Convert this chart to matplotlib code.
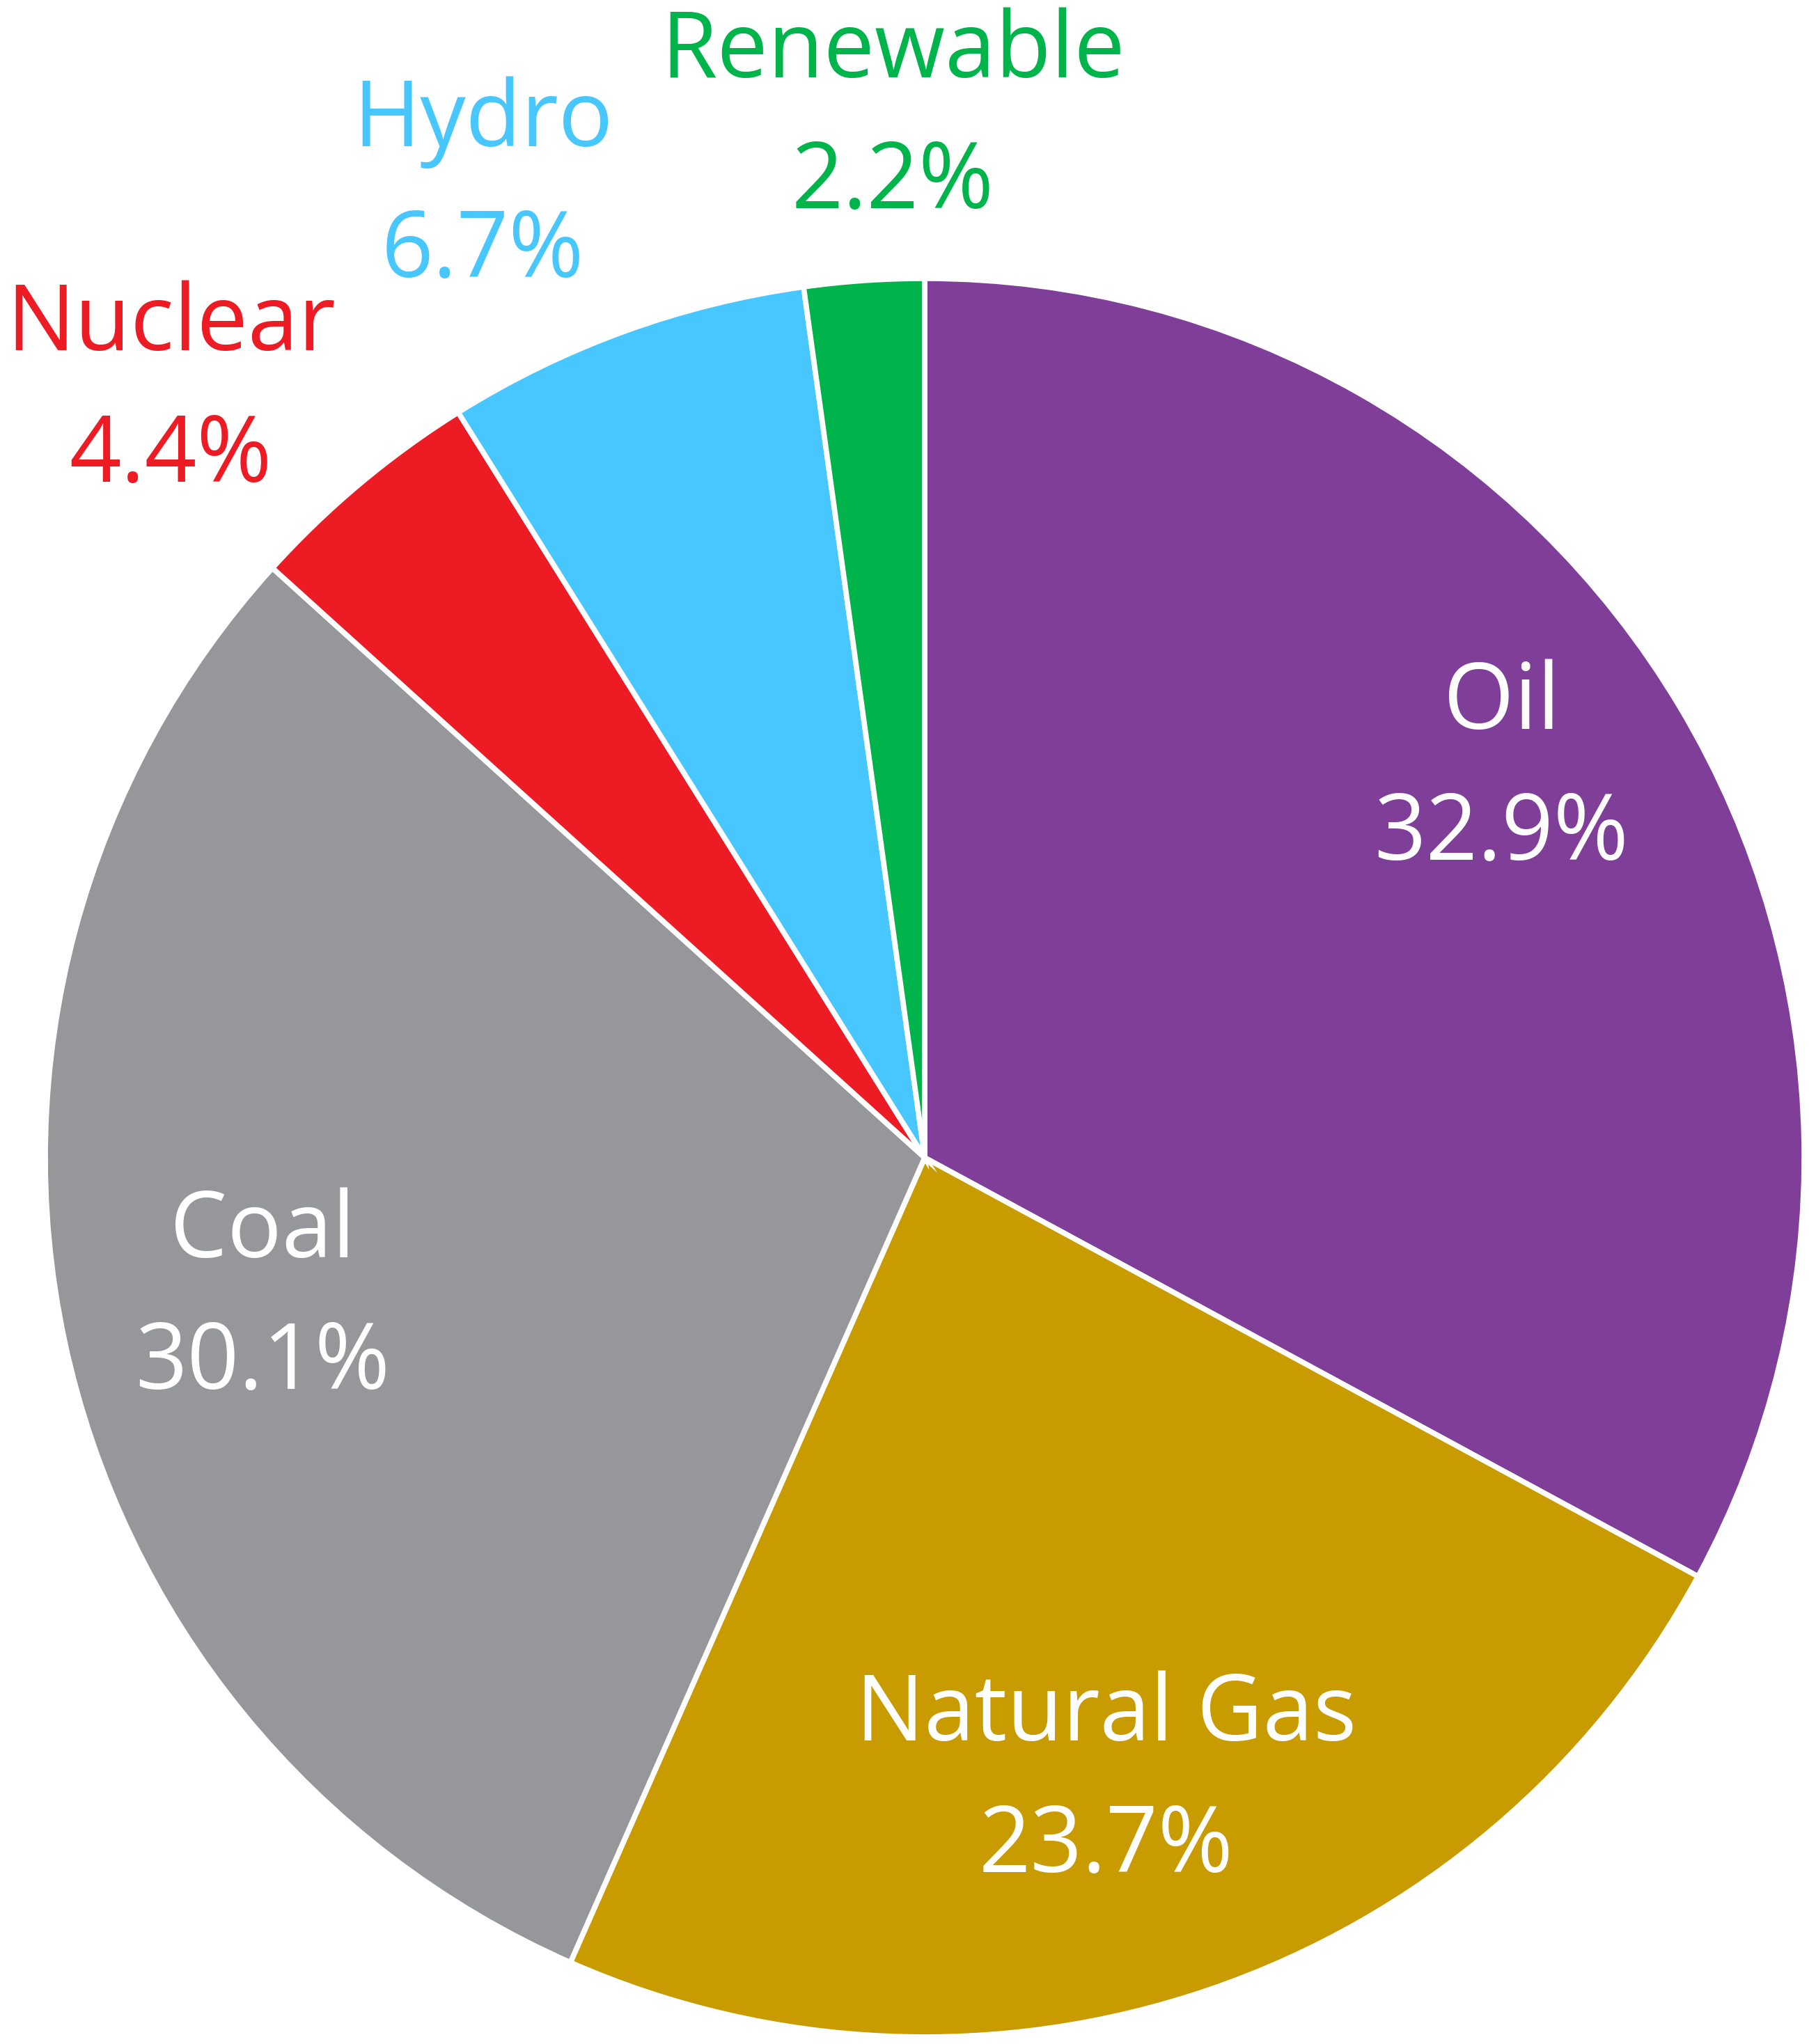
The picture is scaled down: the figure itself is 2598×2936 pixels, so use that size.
import numpy as np
import matplotlib
matplotlib.use("Agg")
import matplotlib.pyplot as plt

# energy mix, clockwise from 12 o'clock
sources = ["Oil", "Natural Gas", "Coal", "Nuclear", "Hydro", "Renewable"]
shares = [32.9, 23.7, 30.1, 4.4, 6.7, 2.2]
colors = ["#7F3F98", "#C89B00", "#96979B", "#ED1C24", "#48C7FF", "#00B44C"]

# label placement: radius (fraction of pie radius) and angular nudge (deg)
label_r = [0.79, 0.74, 0.77, 1.222, 1.212, 1.182]
label_nudge = [3.1, -2.7, 0.0, 4.6, 4.5, -2.2]
label_inside = [True, True, True, False, False, False]

plt.rcParams['font.family'] = ['Open Sans', 'DejaVu Sans']

fig = plt.figure(figsize=(25.98, 29.36), dpi=100)
ax = fig.add_axes([0, 0, 1, 1])

wedges, _ = ax.pie(shares, colors=colors, startangle=90, counterclock=False,
                   wedgeprops=dict(edgecolor="white", linewidth=5.5))

for w, name, val, r, nudge, inside, col in zip(wedges, sources, shares, label_r,
                                               label_nudge, label_inside, colors):
    ang = np.deg2rad((w.theta1 + w.theta2) / 2 + nudge)
    x, y = r * np.cos(ang), r * np.sin(ang)
    ax.text(x, y, f"{name}\n{val}%", ha="center", va="center",
            fontsize=94, color="white" if inside else col, linespacing=1.56)

ax.set_xlim(-1.0515, 1.0055)
ax.set_ylim(-1.008, 1.3167)
ax.set_aspect("auto")
ax.axis("off")

fig.savefig("out.png", dpi=100)
